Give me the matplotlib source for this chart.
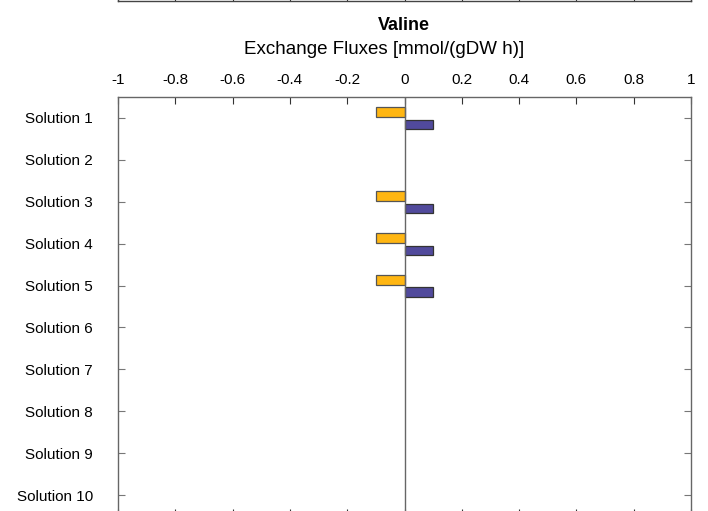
import matplotlib
matplotlib.use("Agg")
import matplotlib.pyplot as plt
import numpy as np

plt.rcParams['font.family'] = ['Liberation Sans', 'DejaVu Sans']

categories = [f"Solution {i}" for i in range(1, 11)]
uptake = [-0.1, 0, -0.1, -0.1, -0.1, 0, 0, 0, 0, 0]      # yellow
secretion = [0.1, 0, 0.1, 0.1, 0.1, 0, 0, 0, 0, 0]       # blue
xticks = [-1, -0.8, -0.6, -0.4, -0.2, 0, 0.2, 0.4, 0.6, 0.8, 1]
xticklabels = ["-1", "-0.8", "-0.6", "-0.4", "-0.2", "0", "0.2", "0.4", "0.6", "0.8", "1"]

W, H = 708, 511
fig = plt.figure(figsize=(W/100, H/100), dpi=100)

def fx(px): return px / W
def fy(py): return 1 - py / H

left, right, top, bottom = 118, 691, 97, 516
ax = fig.add_axes([fx(left), fy(bottom), fx(right) - fx(left), fy(top) - fy(bottom)])

pos = np.arange(1, 11)
mask_u = [v != 0 for v in uptake]
mask_s = [v != 0 for v in secretion]
pu = pos[mask_u]; vu = np.array(uptake)[mask_u]
ps = pos[mask_s]; vs = np.array(secretion)[mask_s]
ax.barh(pu - 0.14, vu, height=0.23, color='#FFB612', edgecolor='#555555', linewidth=0.9)
ax.barh(ps + 0.16, vs, height=0.23, color='#514A9C', edgecolor='#333333', linewidth=0.9)
ax.axvline(0, color='#666666', linewidth=1.0, zorder=3)

ax.set_xlim(-1, 1)
ax.set_ylim(10.5, 0.5)
ax.set_yticks(pos)
ax.set_yticklabels(categories, fontsize=11)
ax.set_xticks(xticks)
ax.set_xticklabels(xticklabels, fontsize=11)
ax.xaxis.tick_top()
ax.tick_params(axis='x', which='both', direction='in', top=True, bottom=True, length=5, pad=7, color='#333333')
ax.tick_params(axis='y', which='both', direction='in', left=True, right=True, length=5, pad=18, color='#777777')
for s in ax.spines.values():
    s.set_color('#666666')
    s.set_linewidth(1.0)

fig.text(fx(404), fy(26), "Valine", ha='center', va='center', fontsize=13, fontweight='bold')
fig.text(fx(384), fy(50), "Exchange Fluxes [mmol/(gDW h)]", ha='center', va='center', fontsize=13.5)

# bottom of previous chart, visible at top edge
ax0 = fig.add_axes([fx(left), fy(1), fx(right) - fx(left), 0.2])
ax0.set_xlim(-1, 1)
ax0.set_xticks(xticks)
ax0.set_xticklabels([])
ax0.set_yticks([])
ax0.tick_params(axis='x', direction='in', length=5, color='#333333')
for s in ax0.spines.values():
    s.set_color('#444444')
    s.set_linewidth(1.0)

fig.savefig("out.png", dpi=100, facecolor='white')
